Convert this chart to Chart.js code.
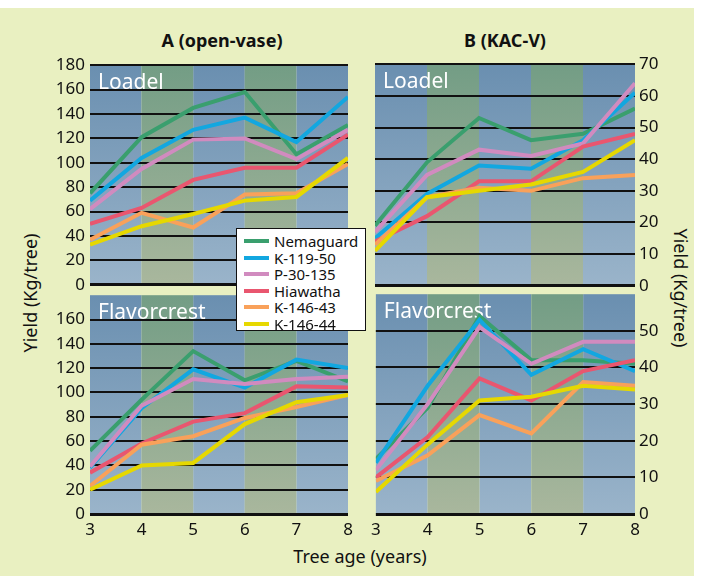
<!DOCTYPE html>
<html>
<head>
<meta charset="utf-8">
<title>Yield by rootstock</title>
<script src="https://cdn.jsdelivr.net/npm/chart.js@4.4.1/dist/chart.umd.min.js"></script>
<style>
  html, body { margin: 0; padding: 0; background: #fff; }
  #wrap { position: relative; width: 701px; height: 580px; overflow: hidden; font-family: "Noto Sans", sans-serif; color: #111; }
  #bg { position: absolute; left: 0; top: 8px; width: 694px; height: 568px; background: #e9f0c1; }
  canvas { position: absolute; }
  .txt { position: absolute; white-space: nowrap; transform: translate(-50%, -50%); font-size: 18px; line-height: 22px; }
  .bold { font-weight: bold; }
  #legend { position: absolute; left: 236px; top: 228px; width: 128px; height: 101px; background: #fff; border: 1px solid #111; z-index: 5; }
  #legend .row { position: absolute; left: 0; height: 17px; width: 128px; }
  #legend .swatch { position: absolute; left: 7px; top: 6px; width: 25px; height: 4px; }
  #legend .name { position: absolute; left: 37px; top: -2px; font-size: 15px; line-height: 20px; }
</style>
</head>
<body>
<div id="wrap">
  <div id="bg"></div>
  <div class="txt bold" style="left:222px; top:40px;">A (open-vase)</div>
  <div class="txt bold" style="left:505px; top:40px;">B (KAC-V)</div>
  <div class="txt" style="left:30px; top:293px; transform:translate(-50%,-50%) rotate(-90deg);">Yield (Kg/tree)</div>
  <div class="txt" style="left:681px; top:288px; transform:translate(-50%,-50%) rotate(90deg);">Yield (Kg/tree)</div>
  <div class="txt" style="left:360px; top:556px;">Tree age (years)</div>

  <canvas id="loadelA" width="330" height="250" style="left:30px; top:50px;"></canvas>
  <canvas id="flavorA" width="330" height="272" style="left:30px; top:280px;"></canvas>
  <canvas id="loadelB" width="325" height="250" style="left:365px; top:50px;"></canvas>
  <canvas id="flavorB" width="325" height="272" style="left:365px; top:280px;"></canvas>

  <div id="legend"></div>
</div>

<script>
// tree age on the x axis
const years = [3, 4, 5, 6, 7, 8];

const cultivars = ['Nemaguard', 'K-119-50', 'P-30-135', 'Hiawatha', 'K-146-43', 'K-146-44'];
const lineColors = ['#3a9f6e', '#12a7e0', '#d18bbf', '#e9566f', '#f9a15a', '#e6d800'];

// yields (kg/tree), one row per cultivar in the order above
const loadelOpenVase = [
  [75, 121, 145, 158, 107, 131],
  [69, 104, 127, 137, 117, 154],
  [62, 95, 119, 120, 103, 127],
  [50, 63, 86, 96, 96, 123],
  [37, 59, 47, 74, 75, 99],
  [33, 48, 58, 69, 72, 104]
];

const flavorcrestOpenVase = [
  [52, 94, 134, 110, 126, 109],
  [38, 87, 119, 104, 127, 120],
  [39, 89, 111, 107, 111, 113],
  [34, 58, 76, 83, 105, 104],
  [23, 57, 64, 79, 88, 98],
  [20, 40, 42, 74, 92, 98]
];

const loadelKacv = [
  [19, 39, 53, 46, 48, 56],
  [15, 29, 38, 37, 46, 61],
  [17, 35, 43, 41, 45, 64],
  [14, 22, 33, 33, 44, 48],
  [13, 28, 31, 30, 34, 35],
  [11, 28, 30, 32, 36, 46]
];

const flavorcrestKacv = [
  [15, 29, 54, 42, 42, 41],
  [14, 35, 53, 38, 45, 39],
  [12, 30, 51, 41, 47, 47],
  [10, 21, 37, 31, 39, 42],
  [9, 16, 27, 22, 36, 35],
  [6, 19, 31, 32, 35, 34]
];

// band colours (top, bottom of the gradient)
const blueBand = ['#6a8fb0', '#9ab4ca'];
const greenBand = ['#739d85', '#a9b79d'];

Chart.defaults.font.family = '"Noto Sans", sans-serif';
Chart.defaults.color = '#111';

// paints the alternating year bands and the orchard label behind the lines
function bandsPlugin(label) {
  return {
    id: 'bands',
    beforeDraw(chart) {
      const ctx = chart.ctx;
      const area = chart.chartArea;
      const x = chart.scales.x;
      ctx.save();
      for (let i = 0; i < years.length - 1; i++) {
        const x0 = x.getPixelForValue(years[i]);
        const x1 = x.getPixelForValue(years[i + 1]);
        const c = i % 2 ? greenBand : blueBand;
        const g = ctx.createLinearGradient(0, area.top, 0, area.bottom);
        g.addColorStop(0, c[0]);
        g.addColorStop(1, c[1]);
        ctx.fillStyle = g;
        ctx.fillRect(x0, area.top, x1 - x0, area.bottom - area.top);
      }
      ctx.fillStyle = '#fff';
      ctx.font = '21px "Noto Sans", sans-serif';
      ctx.textBaseline = 'alphabetic';
      ctx.fillText(label, area.left + 8, area.top + 24);
      ctx.restore();
    }
  };
}

function makePanel(id, rows, label, yMax, yStep, opts) {
  const ctx = document.getElementById(id).getContext('2d');

  const datasets = rows.map(function (vals, i) {
    return {
      label: cultivars[i],
      data: vals.map((v, j) => ({ x: years[j], y: v })),
      borderColor: lineColors[i],
      backgroundColor: lineColors[i],
      borderWidth: 4,
      pointRadius: 0,
      tension: 0,
      order: rows.length - i // later cultivars sit on top
    };
  });

  return new Chart(ctx, {
    type: 'line',
    data: { datasets: datasets },
    options: {
      responsive: false,
      animation: false,
      layout: { padding: opts.padding },
      plugins: {
        legend: { display: false },
        tooltip: { enabled: false }
      },
      scales: {
        x: {
          type: 'linear',
          min: 3,
          max: 8,
          display: opts.showX,
          ticks: { stepSize: 1, font: { size: 17 }, padding: 6 },
          grid: { display: false, drawTicks: false },
          border: { display: false },
          afterFit(scale) { scale.height = opts.showX ? 38 : 0; }
        },
        y: {
          position: opts.side,
          min: 0,
          max: yMax,
          ticks: {
            stepSize: yStep,
            autoSkip: false,
            font: { size: 17 },
            padding: opts.side === 'left' ? 5 : 4,
            callback: v => (opts.hideTop && v === yMax) ? '' : v
          },
          grid: {
            drawTicks: false,
            color: c => (opts.hideTop && c.tick.value === yMax) ? 'rgba(0,0,0,0)' : '#111',
            lineWidth: c => c.tick.value === 0 ? 3 : 2
          },
          border: { display: false },
          afterFit(scale) { scale.width = opts.axisWidth; }
        }
      }
    },
    plugins: [bandsPlugin(label)]
  });
}

makePanel('loadelA', loadelOpenVase, 'Loadel', 180, 20, {
  side: 'left', axisWidth: 60, showX: false, hideTop: false,
  padding: { top: 13, right: 12, bottom: 14, left: 0 }
});
makePanel('flavorA', flavorcrestOpenVase, 'Flavorcrest', 180, 20, {
  side: 'left', axisWidth: 60, showX: true, hideTop: true,
  padding: { top: 11, right: 12, bottom: 0, left: 0 }
});
makePanel('loadelB', loadelKacv, 'Loadel', 70, 10, {
  side: 'right', axisWidth: 55, showX: false, hideTop: false,
  padding: { top: 13, right: 0, bottom: 14, left: 10 }
});
makePanel('flavorB', flavorcrestKacv, 'Flavorcrest', 60, 10, {
  side: 'right', axisWidth: 55, showX: true, hideTop: true,
  padding: { top: 11, right: 0, bottom: 0, left: 10 }
});

// shared legend in the middle of the figure
const legend = document.getElementById('legend');
cultivars.forEach(function (name, i) {
  const row = document.createElement('div');
  row.className = 'row';
  row.style.top = (4 + i * 16.6) + 'px';
  row.innerHTML = '<span class="swatch" style="background:' + lineColors[i] + '"></span>' +
    '<span class="name">' + name + '</span>';
  legend.appendChild(row);
});
</script>
</body>
</html>
